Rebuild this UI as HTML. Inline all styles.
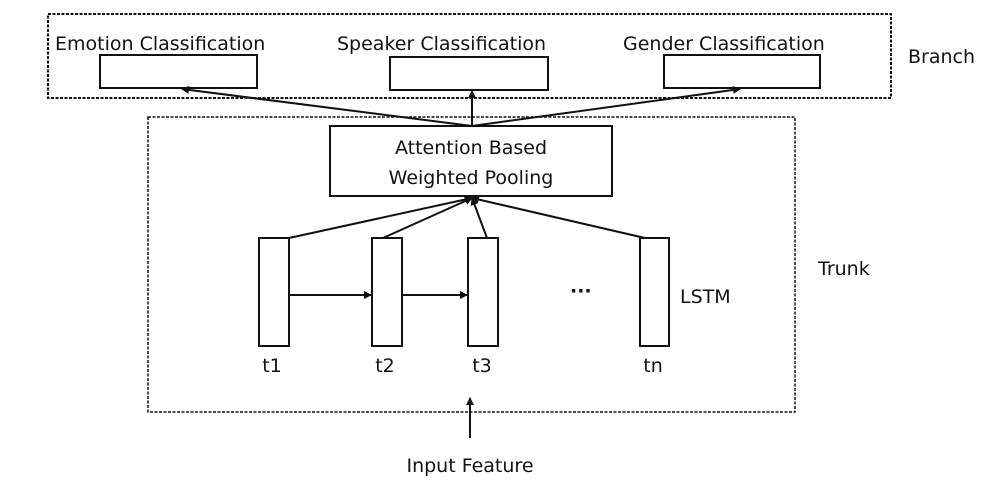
<!DOCTYPE html>
<html><head><style>
body{margin:0;background:#fff;}
svg text{font-family:"DejaVu Sans","Liberation Sans",sans-serif;fill:#111;}
</style></head><body>
<svg width="1004" height="496" viewBox="0 0 1004 496" xmlns="http://www.w3.org/2000/svg">
<defs><marker id="a" markerWidth="8" markerHeight="8" refX="7" refY="4" orient="auto" markerUnits="userSpaceOnUse"><path d="M0,0 L8,4 L0,8 z" fill="#111"/></marker></defs>
<g fill="none" stroke="#111">
<rect x="48" y="14" width="843" height="84" stroke-width="2" stroke-dasharray="3,1.5"/>
<rect x="148" y="117" width="647" height="295" stroke-width="1.5" stroke-dasharray="3,1.5"/>
<rect x="100" y="55" width="157" height="33" stroke-width="2"/>
<rect x="390" y="57" width="158" height="33" stroke-width="2"/>
<rect x="664" y="55" width="156" height="33" stroke-width="2"/>
<rect x="330" y="126" width="282" height="70" stroke-width="2"/>
<rect x="259" y="238" width="30" height="108" stroke-width="2"/>
<rect x="372" y="238" width="30" height="108" stroke-width="2"/>
<rect x="468" y="238" width="30" height="108" stroke-width="2"/>
<rect x="640" y="238" width="29" height="108" stroke-width="2"/>
<g stroke-width="2" marker-end="url(#a)">
<line x1="472" y1="126" x2="182" y2="89"/>
<line x1="472" y1="126" x2="472" y2="91"/>
<line x1="472" y1="126" x2="740" y2="89"/>
<line x1="289" y1="238" x2="472" y2="198"/>
<line x1="383" y1="238" x2="472" y2="198"/>
<line x1="487" y1="238" x2="472" y2="198"/>
<line x1="645" y1="238" x2="472" y2="198"/>
<line x1="289" y1="295" x2="371" y2="295"/>
<line x1="402" y1="295" x2="467" y2="295"/>
<line x1="470" y1="438" x2="470" y2="398"/>
</g>
</g>
<g font-size="19">
<text x="55" y="50">Emotion Classification</text>
<text x="337" y="50">Speaker Classification</text>
<text x="623" y="50">Gender Classification</text>
<text x="908" y="63">Branch</text>
<text x="471" y="154" text-anchor="middle">Attention Based</text>
<text x="471" y="184" text-anchor="middle">Weighted Pooling</text>
<text x="818" y="275">Trunk</text>
<text x="680" y="303">LSTM</text>
<text x="570" y="297" font-weight="bold">···</text>
<text x="272" y="372" text-anchor="middle">t1</text>
<text x="385" y="372" text-anchor="middle">t2</text>
<text x="482" y="372" text-anchor="middle">t3</text>
<text x="653" y="372" text-anchor="middle">tn</text>
<text x="470" y="472" text-anchor="middle">Input Feature</text>
</g>
</svg>
</body></html>
